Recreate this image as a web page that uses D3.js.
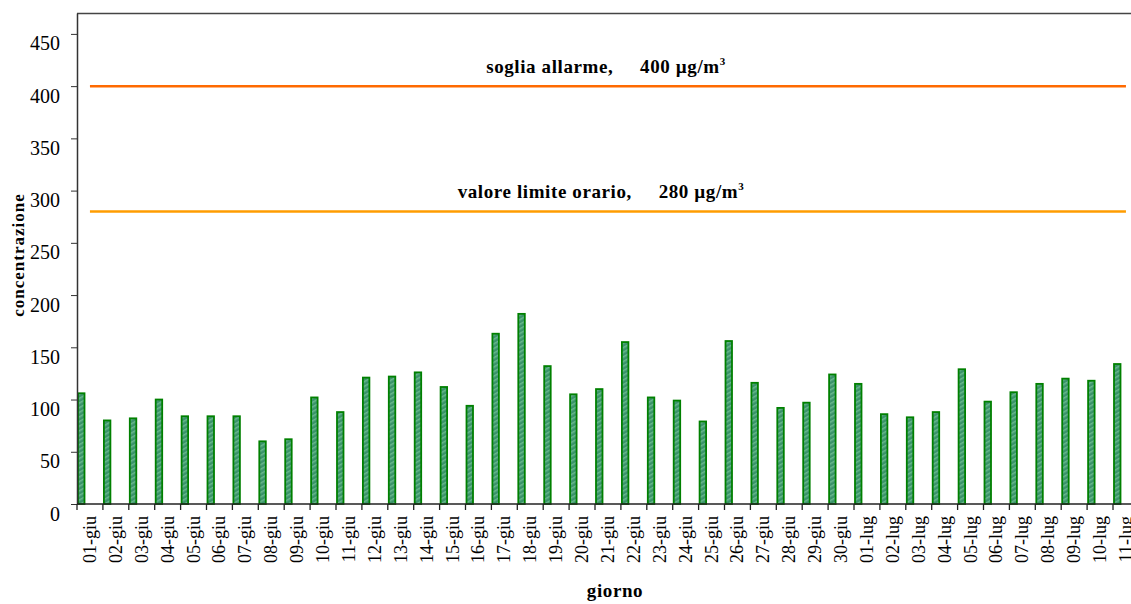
<!DOCTYPE html>
<html>
<head>
<meta charset="utf-8">
<script src="https://cdn.jsdelivr.net/npm/d3@7/dist/d3.min.js"></script>
<style>
  body { margin: 0; background: #fff; }
  svg text { font-family: "Liberation Serif", "Times New Roman", serif; fill: #000; }
</style>
</head>
<body>
<svg id="chart-svg" width="1131" height="604"></svg>
<script>
var svg = d3.select("#chart-svg");
var margin = { left: 77, top: 13, bottom: 504 };
var band_w = 25.9;

// Data
var days = ["01-giu","02-giu","03-giu","04-giu","05-giu","06-giu","07-giu","08-giu","09-giu","10-giu",
            "11-giu","12-giu","13-giu","14-giu","15-giu","16-giu","17-giu","18-giu","19-giu","20-giu",
            "21-giu","22-giu","23-giu","24-giu","25-giu","26-giu","27-giu","28-giu","29-giu","30-giu",
            "01-lug","02-lug","03-lug","04-lug","05-lug","06-lug","07-lug","08-lug","09-lug","10-lug","11-lug"];
var concentrations = [106, 80, 82, 100, 84, 84, 84, 60, 62, 102,
                      88, 121, 122, 126, 112, 94, 163, 182, 132, 105,
                      110, 155, 102, 99, 79, 156, 116, 92, 97, 124,
                      115, 86, 83, 88, 129, 98, 107, 115, 120, 118, 134];
var y_ticks = [0, 50, 100, 150, 200, 250, 300, 350, 400, 450];
var thresholds = [400, 280];
var threshold_labels = ["soglia allarme,", "valore limite orario,"];

// Colors
var bar_stroke = "#008000";
var line_colors = ["#ff6a00", "#ff9c00"];

// Scales
var x = d3.scaleBand()
          .domain(days)
          .range([margin.left, margin.left + band_w * days.length])
          .padding(0);
var y = d3.scaleLinear()
          .domain([0, 470])
          .range([margin.bottom, margin.top]);

// Hatch pattern for the bars
var defs = svg.append("defs");
var pat = defs.append("pattern")
              .attr("id", "hatch")
              .attr("patternUnits", "userSpaceOnUse")
              .attr("width", 4)
              .attr("height", 4)
              .attr("patternTransform", "rotate(60)");
pat.append("rect").attr("width", 4).attr("height", 4).attr("fill", "#3a926a");
pat.append("rect").attr("width", 1.5).attr("height", 4).attr("fill", "#68b78c");

// Frame top line
svg.append("line")
   .attr("x1", margin.left)
   .attr("x2", 1131)
   .attr("y1", margin.top + 0.5)
   .attr("y2", margin.top + 0.5)
   .style("stroke", "#444")
   .style("stroke-width", 1.5);

// Threshold lines + labels
svg.selectAll(".threshold")
   .data(thresholds)
   .enter()
   .append("line")
   .attr("class", "threshold")
   .attr("x1", x(days[0]) + x.bandwidth() / 2)
   .attr("x2", x(days[days.length - 1]) + x.bandwidth() / 2)
   .attr("y1", function(d) { return y(d); })
   .attr("y2", function(d) { return y(d); })
   .style("stroke", function(d, i) { return line_colors[i]; })
   .style("stroke-width", 2.5);

var th_text = svg.selectAll(".threshold_label")
   .data(thresholds)
   .enter()
   .append("text")
   .attr("class", "threshold_label")
   .attr("x", function(d, i) { return i == 0 ? 606 : 601; })
   .attr("y", function(d) { return y(d) - 13; })
   .attr("text-anchor", "middle")
   .style("font-size", "19px")
   .style("font-weight", "bold")
   .style("letter-spacing", "0.6px")
   .attr("xml:space", "preserve");
th_text.append("tspan").text(function(d, i) { return threshold_labels[i] + "     " + d + " µg/m"; });
th_text.append("tspan").attr("dy", -8).style("font-size", "11px").text("3");

// Bars
svg.selectAll(".bar")
   .data(concentrations)
   .enter()
   .append("rect")
   .attr("class", "bar")
   .attr("x", function(d, i) { return x(days[i]) + 1; })
   .attr("y", function(d) { return y(d); })
   .attr("width", 6.5)
   .attr("height", function(d) { return y(0) - y(d); })
   .style("fill", "url(#hatch)")
   .style("stroke", bar_stroke)
   .style("stroke-width", 1.8);

// Y axis
var y_axis = svg.append("g")
   .attr("transform", "translate(" + margin.left + ",0)")
   .call(d3.axisLeft(y).tickValues(y_ticks).tickSize(6).tickSizeOuter(0));
y_axis.select(".domain").style("stroke", "#333").style("stroke-width", 1.5);
y_axis.selectAll(".tick line").style("stroke", "#333");
y_axis.selectAll(".tick text")
      .attr("x", -17)
      .attr("dy", "0.8em")
      .style("font-size", "20px");

// X axis line
svg.append("line")
   .attr("x1", margin.left)
   .attr("x2", 1131)
   .attr("y1", y(0))
   .attr("y2", y(0))
   .style("stroke", "#222")
   .style("stroke-width", 1.3);

// X ticks at band boundaries
svg.selectAll(".x_tick")
   .data(days)
   .enter()
   .append("line")
   .attr("class", "x_tick")
   .attr("x1", function(d) { return x(d); })
   .attr("x2", function(d) { return x(d); })
   .attr("y1", y(0))
   .attr("y2", y(0) + 6)
   .style("stroke", "#222")
   .style("stroke-width", 1.3);

// X labels
svg.selectAll(".x_label")
   .data(days)
   .enter()
   .append("text")
   .attr("class", "x_label")
   .attr("transform", function(d) {
     return "translate(" + (x(d) + x.bandwidth() / 2 + 6) + "," + (y(0) + 12) + ") rotate(-90)";
   })
   .attr("text-anchor", "end")
   .style("font-size", "18px")
   .text(function(d) { return d; });

// Axis titles
svg.append("text")
   .attr("x", 615)
   .attr("y", 597)
   .attr("text-anchor", "middle")
   .style("font-size", "19px")
   .style("font-weight", "bold")
   .style("letter-spacing", "0.6px")
   .text("giorno");

svg.append("text")
   .attr("transform", "translate(24,255) rotate(-90)")
   .attr("text-anchor", "middle")
   .style("font-size", "17px")
   .style("font-weight", "bold")
   .style("letter-spacing", "1px")
   .text("concentrazione");
</script>
</body>
</html>
